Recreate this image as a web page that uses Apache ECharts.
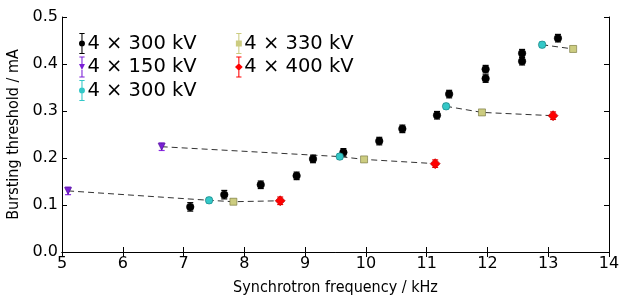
<!DOCTYPE html>
<html>
<head>
<meta charset="utf-8">
<script src="https://cdn.jsdelivr.net/npm/echarts@6/dist/echarts.min.js"></script>
<style>
  html, body { margin: 0; padding: 0; background: #fff; }
  #chart { width: 619px; height: 298px; }
</style>
</head>
<body>
<div id="chart"></div>
<script>
// values
const blackX = [7.11, 7.67, 8.27, 8.86, 9.13, 9.63, 10.22, 10.6, 11.17, 11.37, 11.97, 11.97, 12.57, 12.57, 13.16]
const blackY = [0.096, 0.122, 0.143, 0.162, 0.198, 0.212, 0.236, 0.262, 0.291, 0.336, 0.389, 0.369, 0.423, 0.406, 0.455]
const blackErr = [0.009, 0.009, 0.008, 0.008, 0.008, 0.008, 0.008, 0.008, 0.008, 0.008, 0.008, 0.008, 0.008, 0.008, 0.008]

const purpleX = [5.1, 6.64]
const purpleY = [0.13, 0.224]
const purpleErr = [0.008, 0.008]

const cyanX = [7.42, 9.57, 11.32, 12.9]
const cyanY = [0.11, 0.203, 0.31, 0.441]
const cyanErr = [0.006, 0.006, 0.006, 0.006]

const yellowX = [7.82, 9.97, 11.91, 13.41]
const yellowY = [0.107, 0.197, 0.297, 0.432]
const yellowErr = [0.006, 0.006, 0.006, 0.006]

const redX = [8.59, 11.14, 13.08]
const redY = [0.109, 0.188, 0.29]
const redErr = [0.008, 0.008, 0.008]

// dashed lines join points of the same index across series
const dashGroups = [
  [['purple', 0], ['cyan', 0], ['yellow', 0], ['red', 0]],
  [['purple', 1], ['cyan', 1], ['yellow', 1], ['red', 1]],
  [['cyan', 2], ['yellow', 2], ['red', 2]],
  [['cyan', 3], ['yellow', 3]]
]

const xTicks = [5, 6, 7, 8, 9, 10, 11, 12, 13, 14]
const yTicks = [0.0, 0.1, 0.2, 0.3, 0.4, 0.5]

const sets = {
  black: { name: '4 × 300 kV', x: blackX, y: blackY, err: blackErr, color: '#000000', bar: '#000000', symbol: 'circle', size: 7.5, border: '#000000' },
  purple: { name: '4 × 150 kV', x: purpleX, y: purpleY, err: purpleErr, color: '#7a1fd6', bar: '#8a2be2', symbol: 'triangle', size: 7, border: '#4a0a90' },
  cyan: { name: '4 × 300 kV ', x: cyanX, y: cyanY, err: cyanErr, color: '#33c8c8', bar: '#00ffff', symbol: 'circle', size: 7.5, border: '#1f6f6f' },
  yellow: { name: '4 × 330 kV', x: yellowX, y: yellowY, err: yellowErr, color: '#cccc80', bar: '#e6e68c', symbol: 'rect', size: 7, border: '#6f6f3a' },
  red: { name: '4 × 400 kV', x: redX, y: redY, err: redErr, color: '#ff0000', bar: '#ff0000', symbol: 'diamond', size: 10, border: '#aa0000' }
}

// legend icon: error bar with marker
const barTop = 'M2,0H8V1.2H2Z M4.4,1.2H5.6V8.6H4.4Z M4.4,15.4H5.6V22.8H4.4Z M2,22.8H8V24H2Z '
const icons = {
  circle: 'path://' + barTop + 'M1.6,12A3.4,3.4 0 1 0 8.4,12A3.4,3.4 0 1 0 1.6,12Z',
  triangle: 'path://' + barTop + 'M1.6,8.6H8.4L5,15.4Z',
  rect: 'path://' + barTop + 'M1.6,8.6H8.4V15.4H1.6Z',
  diamond: 'path://' + barTop + 'M5,7.6L9.4,12L5,16.4L0.6,12Z'
}

const series = []
Object.keys(sets).forEach(function (k) {
  const s = sets[k]
  series.push({
    type: 'custom',
    name: s.name + '_err',
    z: 3,
    renderItem: function (params, api) {
      const top = api.coord([api.value(0), api.value(2)])
      const bot = api.coord([api.value(0), api.value(1)])
      const w = 3
      const st = { stroke: s.bar, lineWidth: 1.2 }
      return {
        type: 'group',
        children: [
          { type: 'line', shape: { x1: top[0], y1: top[1], x2: bot[0], y2: bot[1] }, style: st },
          { type: 'line', shape: { x1: top[0] - w, y1: top[1], x2: top[0] + w, y2: top[1] }, style: st },
          { type: 'line', shape: { x1: bot[0] - w, y1: bot[1], x2: bot[0] + w, y2: bot[1] }, style: st }
        ]
      }
    },
    data: s.x.map(function (x, i) { return [x, s.y[i] - s.err[i], s.y[i] + s.err[i]] })
  })
  series.push({
    type: 'scatter',
    name: s.name,
    z: 4,
    symbol: s.symbol,
    symbolSize: s.size,
    symbolRotate: s.symbol === 'triangle' ? 180 : 0,
    itemStyle: { color: s.color, borderColor: s.border, borderWidth: 0.6, opacity: 1 },
    data: s.x.map(function (x, i) { return [x, s.y[i]] })
  })
})

dashGroups.forEach(function (g) {
  series.push({
    type: 'line',
    z: 2,
    symbol: 'none',
    silent: true,
    lineStyle: { color: '#333', width: 1, type: [6, 4] },
    data: g.map(function (p) { return [sets[p[0]].x[p[1]], sets[p[0]].y[p[1]]] })
  })
})

function legendData (keys) {
  return keys.map(function (k) {
    return { name: sets[k].name, icon: icons[sets[k].symbol], itemStyle: { color: sets[k].color, borderWidth: 0 } }
  })
}

const legendCommon = {
  orient: 'vertical',
  itemWidth: 9,
  itemHeight: 21,
  itemGap: 2.5,
  textStyle: { fontFamily: 'DejaVu Sans', fontSize: 19.5, lineHeight: 20, color: '#000', padding: [0, 0, 0, -4] },
  selectedMode: false
}

const axisFont = { fontFamily: 'DejaVu Sans', fontSize: 16, color: '#000' }
const nameFont = { fontFamily: '"DejaVu Sans Condensed", "DejaVu Sans"', fontSize: 16, color: '#000' }

const myChart = echarts.init(document.getElementById('chart'), null, { renderer: 'canvas' })
myChart.setOption({
  animation: false,
  backgroundColor: '#fff',
  grid: { left: 62, right: 10, top: 17, bottom: 46, containLabel: false, outerBoundsMode: 'none' },
  legend: [
    Object.assign({ left: 74, top: 28, data: legendData(['black', 'purple', 'cyan']) }, legendCommon),
    Object.assign({ left: 230, top: 28, data: legendData(['yellow', 'red']) }, legendCommon)
  ],
  xAxis: [
    {
      type: 'value',
      min: xTicks[0],
      max: xTicks[xTicks.length - 1],
      interval: 1,
      name: 'Synchrotron frequency / kHz',
      nameLocation: 'middle',
      nameGap: 28,
      nameTextStyle: nameFont,
      axisLine: { lineStyle: { color: '#000', width: 1 } },
      axisTick: { inside: true, length: 5, lineStyle: { color: '#000' } },
      axisLabel: Object.assign({ margin: 4 }, axisFont),
      splitLine: { show: false }
    },
    {
      type: 'value',
      position: 'top',
      min: xTicks[0],
      max: xTicks[xTicks.length - 1],
      interval: 1,
      axisLine: { show: true, lineStyle: { color: '#000', width: 1 } },
      axisTick: { inside: true, length: 5, lineStyle: { color: '#000' } },
      axisLabel: { show: false },
      splitLine: { show: false }
    }
  ],
  yAxis: [
    {
      type: 'value',
      min: yTicks[0],
      max: yTicks[yTicks.length - 1],
      interval: 0.1,
      name: 'Bursting threshold / mA',
      nameLocation: 'middle',
      nameGap: 28,
      nameTextStyle: nameFont,
      axisLine: { show: true, lineStyle: { color: '#000', width: 1 } },
      axisTick: { inside: true, length: 5, lineStyle: { color: '#000' } },
      axisLabel: Object.assign({ margin: 4, formatter: function (v) { return v.toFixed(1) } }, axisFont),
      splitLine: { show: false }
    },
    {
      type: 'value',
      position: 'right',
      min: yTicks[0],
      max: yTicks[yTicks.length - 1],
      interval: 0.1,
      axisLine: { show: true, lineStyle: { color: '#000', width: 1 } },
      axisTick: { inside: true, length: 5, lineStyle: { color: '#000' } },
      axisLabel: { show: false },
      splitLine: { show: false }
    }
  ],
  series: series
})
</script>
</body>
</html>
